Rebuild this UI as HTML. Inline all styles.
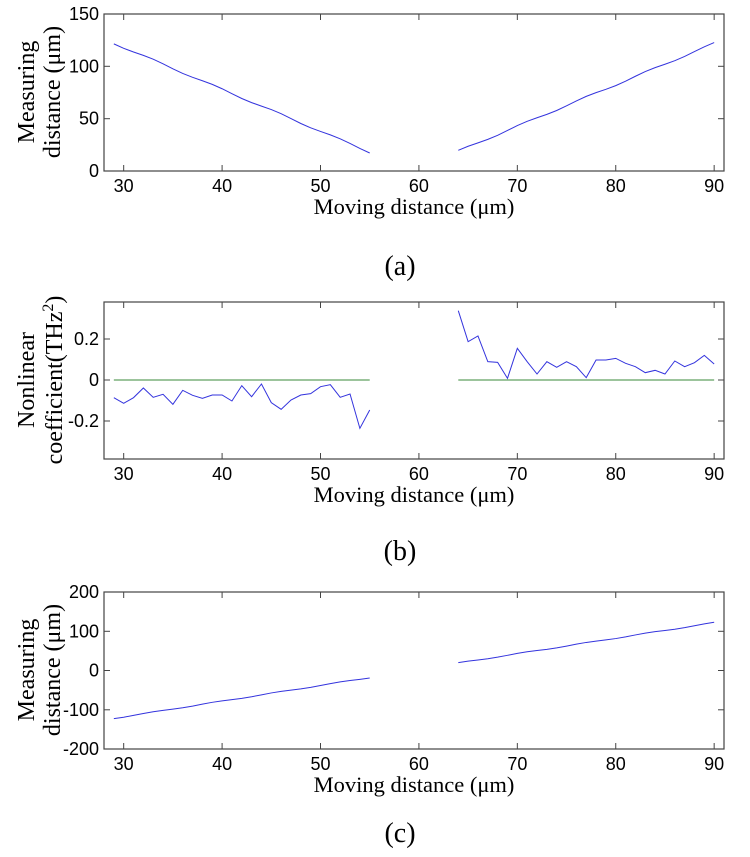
<!DOCTYPE html><html><head><style>body{margin:0;background:#fff}svg{display:block}</style></head><body>
<svg id="s" width="750" height="857" xmlns="http://www.w3.org/2000/svg"></svg>
<script>
const s=document.getElementById('s');let h='';
const X=x=>104+(x-28)*620/63;
function axes(top,bot,yt){
 h+=`<rect x="104" y="${top}" width="620" height="${bot-top}" fill="none" stroke="#444" stroke-width="1.2"/>`;
 for(let x=30;x<=90;x+=10){const p=X(x);h+=`<line x1="${p}" y1="${bot}" x2="${p}" y2="${bot-6}" stroke="#444"/><line x1="${p}" y1="${top}" x2="${p}" y2="${top+6}" stroke="#444"/><text x="${p}" y="${bot+21}" font-family="Liberation Sans,sans-serif" font-size="18" text-anchor="middle">${x}</text>`;}
 for(const [y,l] of yt){h+=`<line x1="104" y1="${y}" x2="110" y2="${y}" stroke="#444"/><line x1="724" y1="${y}" x2="718" y2="${y}" stroke="#444"/><text x="99" y="${y+6}" font-family="Liberation Sans,sans-serif" font-size="18" text-anchor="end">${l}</text>`;}
 h+=`<text x="414" y="${bot+43}" font-family="Liberation Serif,serif" font-size="22.5" text-anchor="middle">Moving distance (μm)</text>`;
}
function line(pts,c){h+=`<polyline fill="none" stroke="${c}" stroke-width="1" points="${pts.map(p=>p.join(',')).join(' ')}"/>`;}
function ylab(a,b,cy){h+=`<text transform="translate(34,${cy}) rotate(-90)" font-family="Liberation Serif,serif" font-size="24" text-anchor="middle">${a}</text><text transform="translate(60,${cy}) rotate(-90)" font-family="Liberation Serif,serif" font-size="24" text-anchor="middle">${b}</text>`;}
// panel a
axes(14,171,[[171,0],[118.7,50],[66.3,100],[14,150]]);
const A=v=>171-v*157/150;let L=[],R=[];
for(let x=29;x<=55;x++)L.push([X(x),A(122-(x-29)*4+Math.sin(x)*0.8)]);
for(let x=64;x<=90;x++)R.push([X(x),A(19+(x-64)*3.96+Math.sin(x)*0.8)]);
line(L,'#3333dd');line(R,'#3333dd');
ylab('Measuring','distance (μm)',92);
h+=`<text x="400" y="275" font-family="Liberation Serif,serif" font-size="28" text-anchor="middle">(a)</text>`;
// panel b
axes(302,459,[[339,'0.2'],[380,'0'],[421,'-0.2']]);
const lo=[-53,-70,-53,-24,-52,-43,-73,-31,-46,-55,-45,-45,-63,-17,-50,-12,-68,-88,-60,-45,-41,-20,-14,-52,-42,-145,-90];
const ro=[208,115,132,55,53,5,95,55,18,55,38,55,40,7,60,60,65,50,40,22,29,18,57,40,52,74,48];
h+=`<line x1="${X(29)}" y1="380" x2="${X(55)}" y2="380" stroke="#3a8a3a"/><line x1="${X(64)}" y1="380" x2="${X(90)}" y2="380" stroke="#3a8a3a"/>`;
line(lo.map((o,i)=>[X(29+i),380-o/3]),'#3333dd');line(ro.map((o,i)=>[X(64+i),380-o/3]),'#3333dd');
h+=`<text transform="translate(34,380) rotate(-90)" font-family="Liberation Serif,serif" font-size="24" text-anchor="middle">Nonlinear</text><text transform="translate(62,380) rotate(-90)" font-family="Liberation Serif,serif" font-size="24" text-anchor="middle">coefficient(THz<tspan dy="-9" font-size="16">2</tspan><tspan dy="9">)</tspan></text>`;
h+=`<text x="400" y="560" font-family="Liberation Serif,serif" font-size="28" text-anchor="middle">(b)</text>`;
// panel c
axes(592,749,[[592,200],[631.3,100],[670.5,0],[709.8,-100],[749,-200]]);
const C=v=>670.5-v*157/400;L=[];R=[];
for(let x=29;x<=55;x++)L.push([X(x),C(-(122-(x-29)*4)+Math.sin(x))]);
for(let x=64;x<=90;x++)R.push([X(x),C(19+(x-64)*3.96+Math.sin(x))]);
line(L,'#3333dd');line(R,'#3333dd');
ylab('Measuring','distance (μm)',670);
h+=`<text x="400" y="842" font-family="Liberation Serif,serif" font-size="28" text-anchor="middle">(c)</text>`;
s.innerHTML=h;
</script></body></html>
